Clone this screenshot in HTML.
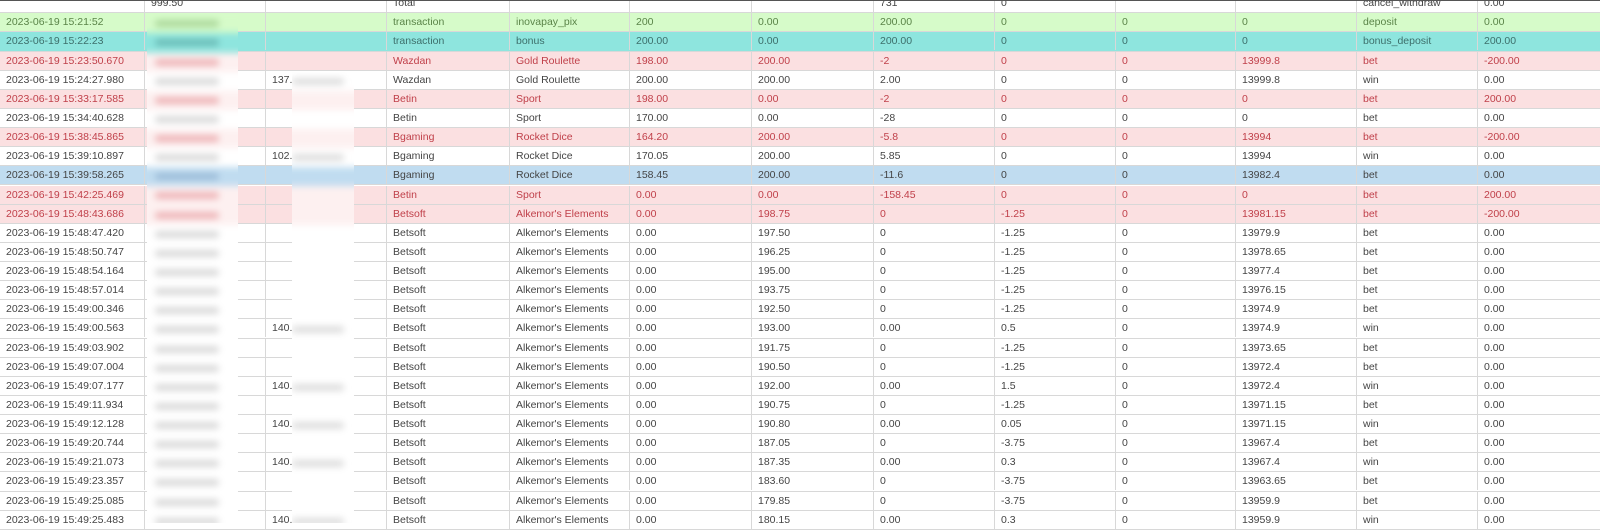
<!DOCTYPE html>
<html><head><meta charset="utf-8">
<style>
html,body{margin:0;padding:0;background:#fff;}
body{width:1600px;height:523px;overflow:hidden;position:relative;font-family:"Liberation Sans",Arial,sans-serif;font-size:10.5px;color:#444;}
#tbl{position:absolute;left:0;top:0;width:1600px;height:523px;}
.row{position:absolute;left:0;width:1600px;height:19.13px;box-sizing:border-box;border-bottom:1px solid #d8d8d8;}
.cell{position:absolute;top:0;height:18px;line-height:18px;padding-left:6px;box-sizing:border-box;border-left:1px solid #d8d8d8;white-space:nowrap;overflow:hidden;}
.red{background:#fbe0e1;color:#c0404a;}
.green{background:#d6fbc9;color:#5a8448;}
.teal{background:#8ee5de;color:#3d6f6b;}
.blue{background:#c0dcf0;color:#444;}
.topline{position:absolute;left:0;top:0;width:1600px;height:1px;background:#555;}
.blurcol{position:absolute;filter:blur(3.5px);}
.smudge{position:absolute;height:7px;border-radius:3px;}
</style></head>
<body>
<div id="tbl"></div>
<div class="topline"></div>
<script>
const colX=[0,144,265,386,509,629,751,873,994,1115,1235,1356,1477,1600];
const rowTop0=-5.8, rowH=19.13;
const headerRow=["","999.50","","Total","","","","731","0","","","cancel_withdraw","0.00"];
const rowClasses=["green","teal","red","","red","","red","","blue","red","red","","","","","","","","","","","","","","","",""];
const times=["15:21:52","15:22:23","15:23:50.670","15:24:27.980","15:33:17.585","15:34:40.628","15:38:45.865","15:39:10.897","15:39:58.265","15:42:25.469","15:48:43.686","15:48:47.420","15:48:50.747","15:48:54.164","15:48:57.014","15:49:00.346","15:49:00.563","15:49:03.902","15:49:07.004","15:49:07.177","15:49:11.934","15:49:12.128","15:49:20.744","15:49:21.073","15:49:23.357","15:49:25.085","15:49:25.483"];
const ips=["","","","137.","","","","102.","","","","","","","","","140.","","","140.","","140.","","140.","","","140."];
const providers=["transaction","transaction","Wazdan","Wazdan","Betin","Betin","Bgaming","Bgaming","Bgaming","Betin","Betsoft","Betsoft","Betsoft","Betsoft","Betsoft","Betsoft","Betsoft","Betsoft","Betsoft","Betsoft","Betsoft","Betsoft","Betsoft","Betsoft","Betsoft","Betsoft","Betsoft"];
const games=["inovapay_pix","bonus","Gold Roulette","Gold Roulette","Sport","Sport","Rocket Dice","Rocket Dice","Rocket Dice","Sport","Alkemor's Elements","Alkemor's Elements","Alkemor's Elements","Alkemor's Elements","Alkemor's Elements","Alkemor's Elements","Alkemor's Elements","Alkemor's Elements","Alkemor's Elements","Alkemor's Elements","Alkemor's Elements","Alkemor's Elements","Alkemor's Elements","Alkemor's Elements","Alkemor's Elements","Alkemor's Elements","Alkemor's Elements"];
const balBefore=["200","200.00","198.00","200.00","198.00","170.00","164.20","170.05","158.45","0.00","0.00","0.00","0.00","0.00","0.00","0.00","0.00","0.00","0.00","0.00","0.00","0.00","0.00","0.00","0.00","0.00","0.00"];
const balAfter=["0.00","0.00","200.00","200.00","0.00","0.00","200.00","200.00","200.00","0.00","198.75","197.50","196.25","195.00","193.75","192.50","193.00","191.75","190.50","192.00","190.75","190.80","187.05","187.35","183.60","179.85","180.15"];
const amount=["200.00","200.00","-2","2.00","-2","-28","-5.8","5.85","-11.6","-158.45","0","0","0","0","0","0","0.00","0","0","0.00","0","0.00","0","0.00","0","0","0.00"];
const bonusAmt=["0","0","0","0","0","0","0","0","0","0","-1.25","-1.25","-1.25","-1.25","-1.25","-1.25","0.5","-1.25","-1.25","1.5","-1.25","0.05","-3.75","0.3","-3.75","-3.75","0.3"];
const col10=["0","0","0","0","0","0","0","0","0","0","0","0","0","0","0","0","0","0","0","0","0","0","0","0","0","0","0"];
const balance=["0","0","13999.8","13999.8","0","0","13994","13994","13982.4","0","13981.15","13979.9","13978.65","13977.4","13976.15","13974.9","13974.9","13973.65","13972.4","13972.4","13971.15","13971.15","13967.4","13967.4","13963.65","13959.9","13959.9"];
const types=["deposit","bonus_deposit","bet","win","bet","bet","bet","win","bet","bet","bet","bet","bet","bet","bet","bet","win","bet","bet","win","bet","win","bet","win","bet","bet","win"];
const lastCol=["0.00","200.00","-200.00","0.00","200.00","0.00","-200.00","0.00","0.00","200.00","-200.00","0.00","0.00","0.00","0.00","0.00","0.00","0.00","0.00","0.00","0.00","0.00","0.00","0.00","0.00","0.00","0.00"];
const colNames=["time-cell","user-cell","ip-cell","provider-cell","game-cell","balance-before-cell","balance-after-cell","amount-cell","bonus-cell","extra-cell","total-balance-cell","type-cell","change-cell"];
const tbl=document.getElementById('tbl');
const rowBg={"":"#fff",red:"#fbe0e1",green:"#d6fbc9",teal:"#8ee5de",blue:"#c0dcf0"};
function makeRow(vals,cls,top,idx){
  const r=document.createElement('div');
  r.className='row '+cls;
  r.style.top=top+'px';
  
  
  for(let c=0;c<13;c++){
    const d=document.createElement('div');
    d.className='cell';
    if(c===0) d.style.borderLeft='none';
    d.style.left=colX[c]+'px';
    d.style.width=(colX[c+1]-colX[c])+'px';
    d.textContent=vals[c];
    
    
    r.appendChild(d);
  }
  tbl.appendChild(r);
}
makeRow(headerRow,"",rowTop0,-1);
for(let i=0;i<times.length;i++){
  const vals=["2023-06-19 "+times[i],"",ips[i],providers[i],games[i],balBefore[i],balAfter[i],amount[i],bonusAmt[i],col10[i],balance[i],types[i],lastCol[i]];
  makeRow(vals,rowClasses[i],rowTop0+rowH*(i+1),i);
}
function blurPatch(x,w,startRow,name,smudgeFn){
  const wrap=document.createElement('div');
  wrap.style.position='absolute';wrap.style.left=x+'px';wrap.style.width=w+'px';
  const top=rowTop0+rowH*(startRow+1)+1;
  wrap.style.top=top+'px';wrap.style.height=(523-top)+'px';wrap.style.overflow='hidden';
  
  
  const inner=document.createElement('div');
  inner.className='blurcol';inner.style.left='-6px';inner.style.top='-6px';inner.style.width=(w+12)+'px';inner.style.height=(523-top+12)+'px';
  for(let i=startRow;i<times.length;i++){
    const b=document.createElement('div');
    b.style.position='absolute';b.style.left='0';b.style.width=(w+12)+'px';
    b.style.top=(rowH*(i-startRow)+6)+'px';b.style.height=rowH+'px';
    const cls=rowClasses[i];
    b.style.background=cls==='red'?'#fdf0f0':(rowBg[cls]);
    const s=smudgeFn(i,cls);
    if(s){const sm=document.createElement('div');sm.className='smudge';sm.style.left=s[0]+'px';sm.style.width=s[1]+'px';sm.style.top='6px';sm.style.background=s[2];b.appendChild(sm);}
    inner.appendChild(b);
  }
  wrap.appendChild(inner);document.body.appendChild(wrap);
}
blurPatch(147,91,0,'redacted-user-column',(i,cls)=>{
  const c=cls==='red'?'#eeb5b8':cls==='green'?'#acd89c':cls==='teal'?'#6cbcb7':cls==='blue'?'#9dbdd9':'#dadada';
  return [14,64,c];
});
blurPatch(292,62,3,'redacted-ip-column',(i,cls)=>ips[i]?[6,52,'#dedede']:null);
</script>
</body></html>
